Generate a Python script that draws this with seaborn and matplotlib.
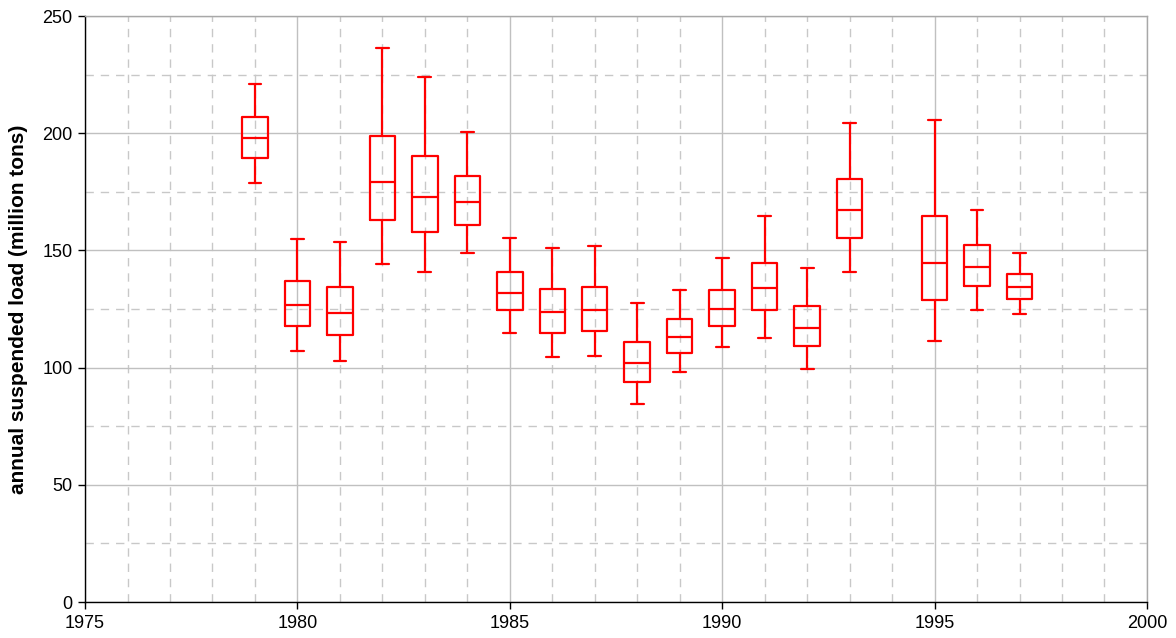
import numpy as np
import pandas as pd
import matplotlib
matplotlib.use("Agg")
import matplotlib.pyplot as plt
from matplotlib.ticker import MultipleLocator
import seaborn as sns

years        = [1979, 1980, 1981, 1982, 1983, 1984, 1985, 1986, 1987, 1988, 1989, 1990, 1991, 1992, 1993, 1995, 1996, 1997]
whisker_low  = [178.9, 107.2, 102.9, 144.3, 140.8, 148.9, 114.9, 104.7, 105.1, 84.6, 98.3, 108.9, 112.8, 99.5, 140.9, 111.5, 124.7, 122.9]
q1           = [189.6, 117.9, 114.0, 162.8, 158.0, 161.0, 124.4, 114.8, 115.6, 94.0, 106.4, 117.7, 124.4, 109.1, 155.4, 128.7, 135.0, 129.3]
median       = [197.8, 126.6, 123.4, 179.0, 172.9, 170.8, 132.0, 123.6, 124.4, 101.8, 113.2, 124.9, 133.8, 117.1, 167.1, 144.6, 143.1, 134.5]
q3           = [206.8, 137.0, 134.4, 198.6, 190.4, 181.9, 140.7, 133.5, 134.5, 110.9, 120.6, 133.0, 144.8, 126.3, 180.6, 164.6, 152.1, 140.1]
whisker_high = [221.1, 154.9, 153.7, 236.3, 223.8, 200.4, 155.2, 151.0, 152.0, 127.7, 133.3, 146.6, 164.7, 142.4, 204.4, 205.5, 167.4, 148.8]

# five summary points per year: percentiles 25/50/75 of five values fall exactly on q1/median/q3
rows = []
for i, y in enumerate(years):
    for v in (whisker_low[i], q1[i], median[i], q3[i], whisker_high[i]):
        rows.append({"year": y, "load": v})
df = pd.DataFrame(rows)

sns.set_style("white")
plt.rcParams["font.family"] = ["Liberation Sans", "DejaVu Sans"]
plt.rcParams["text.color"] = "black"
plt.rcParams["axes.labelcolor"] = "black"
plt.rcParams["xtick.color"] = "black"
plt.rcParams["ytick.color"] = "black"

fig = plt.figure(figsize=(11.76, 6.38), dpi=100)
ax = fig.add_axes([0.0723, 0.0564, 0.9030, 0.9185])

red = "#ff0000"
sns.boxplot(data=df, x="year", y="load", native_scale=True, whis=np.inf,
            width=0.6, fill=False, color=red, linecolor=red, linewidth=1.6,
            showfliers=False, ax=ax)

ax.set_xlim(1975, 2000)
ax.set_ylim(0, 250)
ax.xaxis.set_major_locator(MultipleLocator(5))
ax.xaxis.set_minor_locator(MultipleLocator(1))
ax.yaxis.set_major_locator(MultipleLocator(50))
ax.yaxis.set_minor_locator(MultipleLocator(25))
ax.xaxis.set_major_formatter(matplotlib.ticker.FormatStrFormatter("%d"))

ax.grid(which="major", color="#c0c0c0", linestyle="-", linewidth=1.0)
ax.grid(which="minor", color="#c8c8c8", linestyle=(0, (6, 5)), linewidth=1.0)
ax.set_axisbelow(True)

for s in ("top", "right"):
    ax.spines[s].set_color("#a8a8a8")
    ax.spines[s].set_linewidth(1.0)
for s in ("left", "bottom"):
    ax.spines[s].set_color("black")
    ax.spines[s].set_linewidth(1.0)

ax.tick_params(which="major", direction="out", length=5, width=1, color="black",
               labelcolor="black", labelsize=13, left=True, bottom=True, pad=4)
ax.tick_params(which="minor", length=0)

ax.set_xlabel("")
ax.set_ylabel("annual suspended load (million tons)", fontsize=15, fontweight="bold",
              color="black", labelpad=10)

fig.savefig("out.png", dpi=100)
